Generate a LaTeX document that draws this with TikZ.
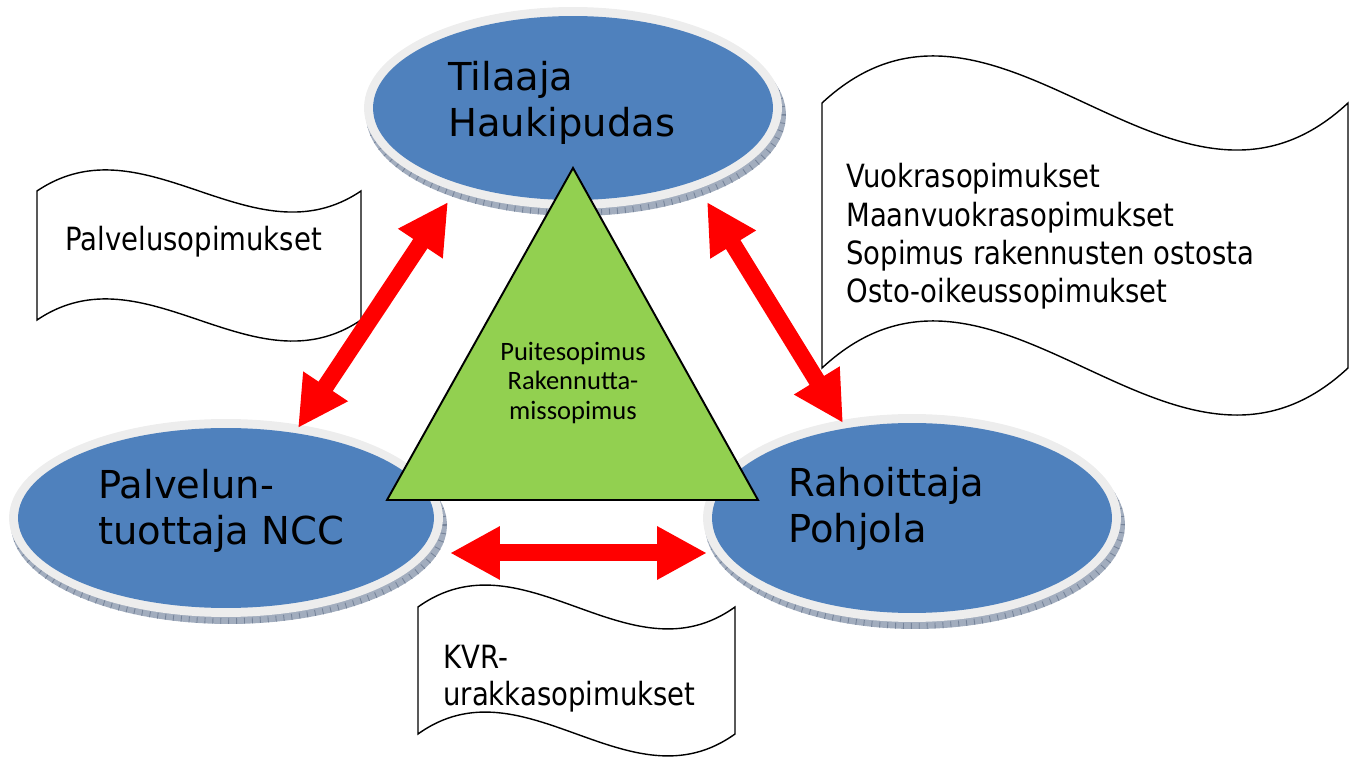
\documentclass[tikz,border=0pt]{standalone}
\usepackage{fontspec}
\setmainfont{DejaVu Sans}
\newfontfamily\docfont[FakeStretch=0.86]{DejaVu Sans}
\newfontfamily\trifont{Carlito}
\usetikzlibrary{calc,arrows.meta,shapes.geometric}
\definecolor{partyblue}{HTML}{4F81BD}
\definecolor{rimlight}{HTML}{EDEDED}
\definecolor{rimdark}{HTML}{A2ADBE}
\definecolor{rimtick}{HTML}{76849A}
\definecolor{trigreen}{HTML}{92D050}
\tikzset{
	party/.style={ellipse, fill=partyblue, inner sep=0pt, minimum width=8cm, minimum height=3.68cm},
	partytext/.style={anchor=base west, align=left, inner sep=0pt, font=\fontsize{21.9pt}{26.5pt}\selectfont},
	doc/.style={draw=black, fill=white, line width=0.8pt},
	doctext/.style={anchor=base west, align=left, inner sep=0pt, font=\docfont\fontsize{18.2pt}{21.9pt}\selectfont},
	tritext/.style={align=center, inner sep=0pt, font=\trifont\fontsize{15.1pt}{17pt}\selectfont},
	twoway/.style={{Triangle[length=1cm,width=1cm]}-{Triangle[length=1cm,width=1cm]}, line width=0.34cm, red},
	rimticks/.style={draw=rimtick, line width=0.12cm, dash pattern=on 0.5pt off 4pt}
}
\begin{document}
\begin{tikzpicture}[x=0.02cm, y=-0.02cm]
			%%%%% START %%%%%
			\useasboundingbox (0,0) rectangle (1349,759);
			
			% tilaaja
			\fill[rimdark] (576,115) ellipse [x radius=4.2cm, y radius=2.02cm];
			\draw[rimticks] (576,115) ellipse [x radius=4.14cm, y radius=1.96cm];
			\fill[rimlight] (573,108) ellipse [x radius=4.18cm, y radius=2.02cm];
			\node[party] (tilaaja) at (573,108) {};
			
			% palveluntuottaja
			\fill[rimdark] (229,525) ellipse [x radius=4.36cm, y radius=1.98cm];
			\draw[rimticks] (229,525) ellipse [x radius=4.3cm, y radius=1.92cm];
			\fill[rimlight] (226,518) ellipse [x radius=4.34cm, y radius=1.98cm];
			\node[party, minimum width=8.32cm, minimum height=3.6cm] (ncc) at (226,518) {};
			
			% rahoittaja
			\fill[rimdark] (915,525) ellipse [x radius=4.2cm, y radius=2.08cm];
			\draw[rimticks] (915,525) ellipse [x radius=4.14cm, y radius=2.02cm];
			\fill[rimlight] (912,518) ellipse [x radius=4.18cm, y radius=2.08cm];
			\node[party, minimum height=3.8cm] (pohjola) at (912,518) {};
			
			% base = last line
			\node[partytext] (tilaaja-txt) at (448,137) {Tilaaja\\Haukipudas};
			\node[partytext] (ncc-txt) at (98,545) {Palvelun-\\tuottaja NCC};
			\node[partytext] (pohjola-txt) at (788,543) {Rahoittaja\\Pohjola};
			
			% puitesopimus
			\draw[fill=trigreen, line width=1.1pt] (573,168) -- (758,500) -- (387,500) -- cycle;
			\node[tritext] (puite-txt) at (573,383) {Puitesopimus\\Rakennutta-\\missopimus};
			
			% sopimukset
			\draw[doc] (37,191) .. controls (145,118) and (253,264) .. (361,191) -- (361,320) .. controls (253,393) and (145,247) .. (37,320) -- cycle;
			\node[doctext] (palvelu-txt) at (65,251) {Palvelusopimukset};
			
			\draw[doc] (822,103) .. controls (997,-60) and (1173,266) .. (1348,103) -- (1348,368) .. controls (1173,531) and (997,205) .. (822,368) -- cycle;
			\node[doctext] (vuokra-txt) at (846,303) {Vuokrasopimukset\\Maanvuokrasopimukset\\Sopimus rakennusten ostosta\\Osto-oikeussopimukset};
			
			\draw[doc] (418,607) .. controls (524,531) and (629,683) .. (735,607) -- (735,734) .. controls (629,810) and (524,658) .. (418,734) -- cycle;
			\node[doctext, font=\docfont\fontsize{18.2pt}{21pt}\selectfont] (kvr-txt) at (443,705) {KVR-\\urakkasopimukset};
			
			% nuolet
			\draw[twoway] ($(ncc.center)+(72,-90)$) -- ($(tilaaja.center)+(-125,94)$);
			\draw[twoway] ($(tilaaja.center)+(134,94)$) -- ($(pohjola.center)+(-69,-95)$);
			\draw[twoway] ($(ncc.center)+(224,35)$) -- ($(pohjola.center)+(-205,35)$);
			%%%%% END %%%%%
\end{tikzpicture}
\end{document}
